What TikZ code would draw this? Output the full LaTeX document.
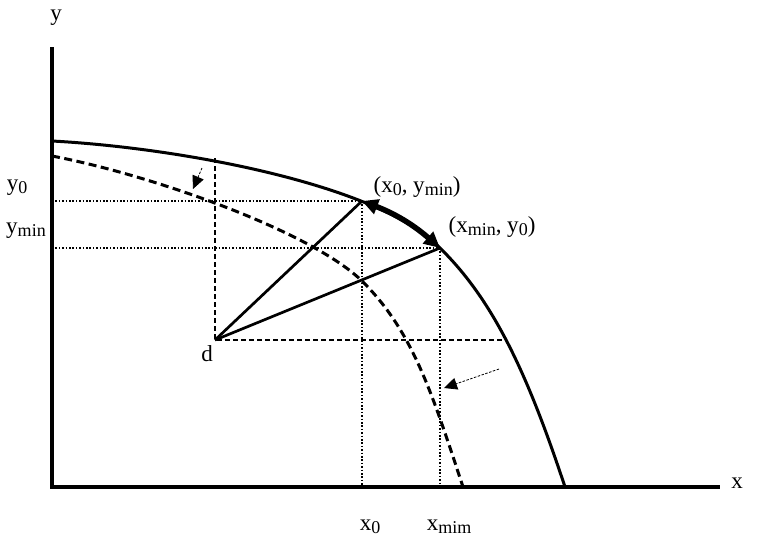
\documentclass[tikz,border=0pt]{standalone}
\usepackage{fontspec}
\setmainfont{Liberation Serif}
\usetikzlibrary{arrows.meta}
\newcommand{\sbs}[1]{\raisebox{-0.14em}{\fontsize{18}{18}\selectfont #1}}
\tikzset{
  lbl/.style={inner sep=0pt, anchor=base, font=\fontsize{23}{23}\selectfont},
  axis/.style={line width=3.3pt},
  frontier/.style={line width=3pt},
  shifted/.style={line width=3pt, dash pattern=on 8pt off 4.5pt},
  guide/.style={line width=1.6pt, dash pattern=on 1.6pt off 1.8pt},
  helper/.style={line width=2pt, dash pattern=on 5pt off 3pt},
  ray/.style={line width=2.7pt},
  move/.style={line width=0.8pt, dash pattern=on 2.5pt off 1.5pt, -{Triangle[length=13pt,width=12pt]}},
  swing/.style={line width=5.5pt, {Triangle[length=16pt,width=15pt]}-{Triangle[length=16pt,width=15pt]}}
}
\begin{document}
\begin{tikzpicture}[x=1pt,y=-1pt]
\useasboundingbox (0,0) rectangle (760,549);
% key points
\coordinate (O) at (52,487);
\coordinate (Ytop) at (52,47);
\coordinate (Xend) at (720,487);
\coordinate (S) at (52,141);
\coordinate (E) at (565,487);
\coordinate (S2) at (52,156);
\coordinate (M2) at (363,282);
\coordinate (E2) at (463,487);
\coordinate (P) at (362,201);
\coordinate (Q) at (440,248);
\coordinate (D) at (215,340);
\coordinate (T) at (215,158);
\coordinate (R) at (507,340);
\coordinate (Y0) at (52,201);
\coordinate (Ym) at (52,248);
\coordinate (X0) at (362,487);
\coordinate (Xm) at (440,487);
\coordinate (a1s) at (202,168);
\coordinate (a1e) at (193,189);
\coordinate (a2s) at (499,369);
\coordinate (a2e) at (444,388);
% dotted guides
\draw[guide] (Y0) -- (P);
\draw[guide] (Ym) -- (Q);
\draw[guide] (P) -- (X0);
\draw[guide] (Q) -- (Xm);
% dashed helpers
\draw[helper] (T) -- (D) -- (R);
% shifted frontier
\draw[shifted] (S2) .. controls (152,175) and (313,232) .. (M2)
  .. controls (413,332) and (432,393) .. (E2);
% frontier
\draw[frontier] (S) .. controls (182,148) and (380,185) .. (Q)
  .. controls (493,300) and (527,372) .. (E);
% rays
\draw[ray] (D) -- (P);
\draw[ray] (D) -- (Q);
% swing arrow
\draw[swing] (P) to[bend left=10] (Q);
% shift arrows
\draw[move] (a1s) -- (a1e);
\draw[move] (a2s) -- (a2e);
% axes
\draw[axis] (Ytop) -- (O) -- (Xend);
% labels
\node[lbl] (ly) at (56,20) {y};
\node[lbl] (lx) at (737,488) {x};
\node[lbl] (ly0) at (17,190) {y\sbs{0}};
\node[lbl] (lym) at (26,233) {y\sbs{min}};
\node[lbl] (ld) at (207,361) {d};
\node[lbl] (lp) at (417,192) {(x\sbs{0}, y\sbs{min})};
\node[lbl] (lq) at (492,232) {(x\sbs{min}, y\sbs{0})};
\node[lbl] (lx0) at (370,530) {x\sbs{0}};
\node[lbl] (lxm) at (449,530) {x\sbs{mim}};
\end{tikzpicture}
\end{document}
